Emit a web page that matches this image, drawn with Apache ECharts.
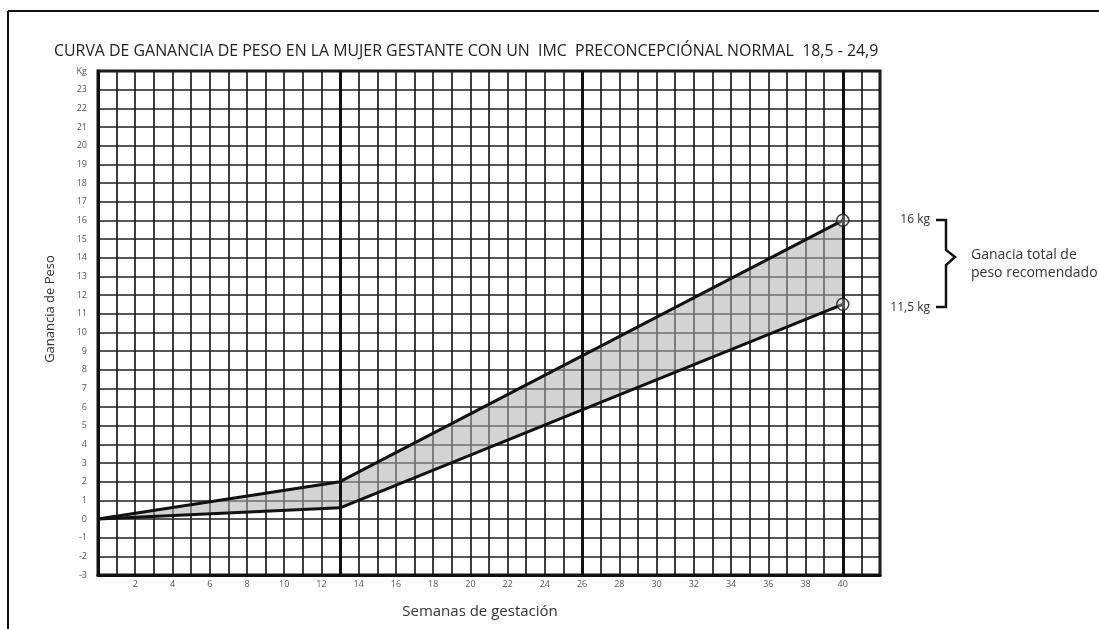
<!DOCTYPE html>
<html>
<head>
<meta charset="utf-8">
<script src="https://cdn.jsdelivr.net/npm/echarts@6/dist/echarts.min.js"></script>
<style>html,body{margin:0;padding:0;background:#fff;}#c{width:1099px;height:629px;}</style>
</head>
<body>
<div id="c"></div>
<script>
// ---- data ----
const weeks = [0, 13, 40];
const upperKg = [0, 2.0, 16];
const lowerKg = [0, 0.6, 11.5];
const markerWeeks = [13, 26, 40];
const endPoints = [[40, 16], [40, 11.5]];
const xTickLabels = [2, 4, 6, 8, 10, 12, 14, 16, 18, 20, 22, 24, 26, 28, 30, 32, 34, 36, 38, 40];
const yUnitLabel = 'Kg';
const titleText = 'CURVA DE GANANCIA DE PESO EN LA MUJER GESTANTE CON UN  IMC  PRECONCEPCIÓNAL NORMAL  18,5 - 24,9';
const xName = 'Semanas de gestación';
const yName = 'Ganancia de Peso';
const upperLabel = '16 kg';
const lowerLabel = '11,5 kg';
const braceText = ['Ganacia total de', 'peso recomendado'];

const chart = echarts.init(document.getElementById('c'), null, {renderer: 'canvas'});
const FONT = '"Open Sans", "Noto Sans", sans-serif';

const option = {
  backgroundColor: '#fff',
  animation: false,
  title: {
    text: titleText,
    left: 49, top: 38,
    textStyle: {fontSize: 15.9, fontWeight: 'normal', color: '#222', fontFamily: FONT}
  },
  grid: {
    left: 98, top: 71, width: 782, height: 504,
    show: true, borderColor: '#111', borderWidth: 3, backgroundColor: 'transparent'
  },
  xAxis: {
    type: 'value', min: 0, max: 42, interval: 1,
    axisLine: {show: true, onZero: false, lineStyle: {color: '#111', width: 3}},
    axisTick: {show: false},
    splitLine: {show: true, lineStyle: {color: '#1e1e1e', width: 1.7}},
    axisLabel: {
      margin: 5, fontSize: 9, color: '#555', fontFamily: FONT,
      formatter: v => xTickLabels.indexOf(v) >= 0 ? String(v) : ''
    },
    name: xName, nameLocation: 'middle', nameGap: 29,
    nameTextStyle: {fontSize: 15, color: '#333', fontFamily: FONT, padding: [0, 18, 0, 0]}
  },
  yAxis: {
    type: 'value', min: -3, max: 24, interval: 1,
    axisLine: {show: true, onZero: false, lineStyle: {color: '#111', width: 3}},
    axisTick: {show: false},
    splitLine: {show: true, lineStyle: {color: '#1e1e1e', width: 1.7}},
    axisLabel: {
      margin: 11, fontSize: 9, color: '#555', fontFamily: FONT,
      formatter: v => v === 24 ? yUnitLabel : String(v)
    }
  },
  graphic: [
    {type: 'line', shape: {x1: 8, y1: 11, x2: 1099, y2: 11}, style: {stroke: '#111', lineWidth: 2}},
    {type: 'line', shape: {x1: 8, y1: 11, x2: 8, y2: 629}, style: {stroke: '#111', lineWidth: 2}},
    {type: 'text', x: 50, y: 309, rotation: Math.PI / 2,
      style: {text: yName, fontSize: 13, fill: '#333', fontFamily: FONT, align: 'center', verticalAlign: 'middle'}},
    {type: 'text', x: 930, y: 220,
      style: {text: upperLabel, fontSize: 12, fill: '#333', fontFamily: FONT, align: 'right', verticalAlign: 'middle'}},
    {type: 'text', x: 930, y: 308,
      style: {text: lowerLabel, fontSize: 12, fill: '#333', fontFamily: FONT, align: 'right', verticalAlign: 'middle'}},
    {type: 'polyline', shape: {points: [[936, 220], [946, 220], [946, 250], [955, 257], [946, 265], [946, 307], [936, 307]]},
      style: {stroke: '#111', lineWidth: 2.5, fill: null}},
    {type: 'text', x: 971, y: 255,
      style: {text: braceText[0], fontSize: 14, fill: '#333', fontFamily: FONT, align: 'left', verticalAlign: 'middle'}},
    {type: 'text', x: 971, y: 273,
      style: {text: braceText[1], fontSize: 14, fill: '#333', fontFamily: FONT, align: 'left', verticalAlign: 'middle'}}
  ],
  series: [
    {
      type: 'custom', z: 3,
      data: [[0, 0]],
      renderItem: function (params, api) {
        const pts = [];
        for (let i = 0; i < weeks.length; i++) pts.push(api.coord([weeks[i], upperKg[i]]));
        for (let i = weeks.length - 1; i >= 0; i--) pts.push(api.coord([weeks[i], lowerKg[i]]));
        return {type: 'polygon', shape: {points: pts}, style: {fill: 'rgba(175,175,175,0.55)'}};
      },
      silent: true
    },
    {
      type: 'line', z: 4, silent: true, symbol: 'none',
      data: weeks.map((w, i) => [w, upperKg[i]]),
      lineStyle: {color: '#111', width: 3},
      markLine: {
        silent: true, symbol: ['none', 'none'], label: {show: false},
        lineStyle: {color: '#111', width: 3, type: 'solid'},
        data: markerWeeks.map(w => ({xAxis: w}))
      }
    },
    {
      type: 'line', z: 4, silent: true, symbol: 'none',
      data: weeks.map((w, i) => [w, lowerKg[i]]),
      lineStyle: {color: '#111', width: 3}
    },
    {
      type: 'scatter', z: 5, silent: true,
      data: endPoints, symbol: 'circle', symbolSize: 12,
      itemStyle: {color: 'rgba(255,255,255,0.35)', borderColor: '#111', borderWidth: 1.5}
    }
  ]
};
chart.setOption(option);
</script>
</body>
</html>
